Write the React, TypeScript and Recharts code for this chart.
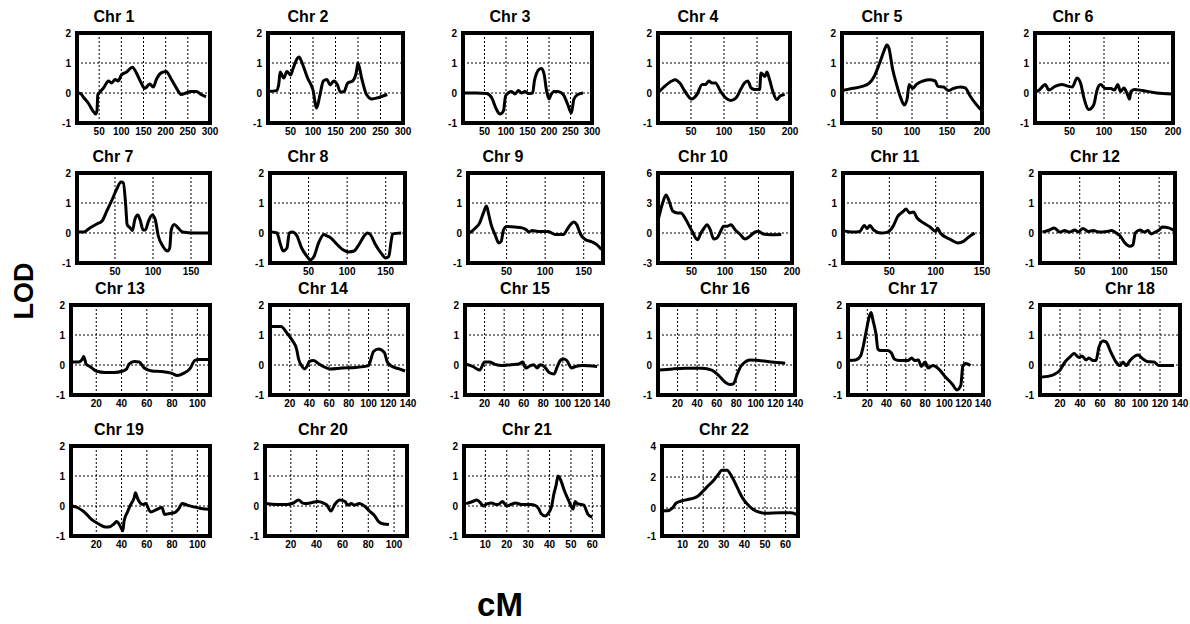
import { CartesianGrid, Line, LineChart, ReferenceArea, XAxis, YAxis } from "recharts";

type Pt = [number, number];

// LOD curves, [cM, LOD]
const chr1: Pt[] = [[0, 0], [8, -0.02], [15, -0.15], [26, -0.35], [36, -0.6], [42, -0.7], [45, -0.6], [47, -0.05], [51, 0.02], [60, 0.17], [71, 0.4], [78, 0.33], [86, 0.45], [93, 0.4], [100, 0.6], [112, 0.7], [125, 0.86], [134, 0.67], [145, 0.33], [153, 0.15], [164, 0.3], [172, 0.2], [179, 0.45], [190, 0.67], [201, 0.72], [213, 0.45], [224, 0.17], [235, -0.05], [246, 0], [257, 0.05], [269, 0.05], [280, -0.05], [291, -0.13]];
const chr2: Pt[] = [[0, 0.05], [19, 0.08], [24, 0.3], [27, 0.7], [35, 0.5], [42, 0.72], [50, 0.6], [56, 0.83], [65, 1.15], [69, 1.2], [77, 0.95], [88, 0.5], [100, 0.1], [108, -0.5], [115, -0.1], [123, 0.4], [131, 0.45], [138, 0.27], [146, 0.4], [154, 0.28], [161, 0.03], [169, 0.05], [177, 0.33], [188, 0.4], [196, 0.67], [200, 1.0], [208, 0.5], [219, -0.05], [231, -0.2], [246, -0.15], [265, -0.05]];
const chr3: Pt[] = [[0, 0], [30, 0], [55, -0.02], [67, -0.17], [78, -0.55], [86, -0.7], [94, -0.6], [99, -0.1], [105, 0], [113, 0.05], [121, -0.03], [129, 0.08], [136, 0], [144, 0.05], [152, -0.02], [162, 0], [166, 0.4], [171, 0.65], [178, 0.8], [183, 0.82], [189, 0.6], [194, 0.1], [200, -0.2], [205, -0.05], [212, 0.05], [221, 0.05], [233, -0.05], [244, -0.4], [252, -0.67], [258, -0.2], [267, -0.05], [279, 0]];
const chr4: Pt[] = [[0, 0], [10, 0.22], [21, 0.4], [26, 0.44], [33, 0.33], [41, 0.05], [51, -0.2], [59, -0.05], [67, 0.28], [72, 0.28], [77, 0.4], [82, 0.33], [87, 0.33], [95, 0.05], [103, -0.17], [110, -0.25], [118, -0.17], [126, 0.15], [131, 0.33], [136, 0.4], [141, 0.17], [146, 0.12], [154, 0.12], [156, 0.67], [162, 0.55], [165, 0.7], [169, 0.45], [174, 0.05], [180, -0.22], [185, -0.1], [192, -0.05]];
const chr5: Pt[] = [[0, 0.08], [14, 0.15], [29, 0.22], [39, 0.33], [46, 0.55], [53, 0.95], [60, 1.4], [64, 1.6], [67, 1.5], [72, 0.83], [78, 0.28], [84, -0.17], [89, -0.4], [93, -0.2], [96, 0.28], [101, 0.15], [106, 0.28], [116, 0.4], [125, 0.44], [133, 0.4], [137, 0.22], [145, 0.2], [152, 0.08], [159, 0.15], [169, 0.2], [176, 0.17], [183, -0.1], [190, -0.33], [198, -0.55]];
const chr6: Pt[] = [[2, 0.05], [5, 0.08], [15, 0.28], [20, 0.1], [29, 0.22], [39, 0.28], [49, 0.22], [54, 0.2], [61, 0.5], [66, 0.33], [71, -0.17], [78, -0.55], [85, -0.4], [90, 0.1], [95, 0.28], [102, 0.15], [110, 0.15], [115, 0.1], [120, 0.28], [124, 0.05], [129, 0.17], [134, -0.05], [137, -0.2], [139, 0.05], [144, 0.12], [156, 0.08], [176, 0], [198, -0.03]];
const chr7: Pt[] = [[0, 0.03], [9, 0.03], [17, 0.17], [26, 0.3], [33, 0.4], [39, 0.72], [46, 1.1], [52, 1.45], [58, 1.7], [61, 1.67], [64, 0.95], [66, 0.28], [70, 0.17], [73, 0.08], [76, 0.44], [80, 0.6], [83, 0.44], [87, 0.1], [90, 0.1], [94, 0.39], [99, 0.6], [103, 0.44], [107, -0.1], [113, -0.44], [119, -0.6], [122, -0.5], [124, 0.1], [128, 0.28], [133, 0.17], [139, 0.03], [154, 0], [174, 0]];
const chr8: Pt[] = [[2, 0.03], [9, 0], [13, -0.33], [17, -0.6], [22, -0.5], [25, 0], [29, 0.03], [35, -0.1], [41, -0.5], [48, -0.78], [52, -0.89], [57, -0.78], [63, -0.33], [70, -0.05], [74, -0.1], [78, -0.15], [85, -0.33], [94, -0.55], [102, -0.63], [109, -0.6], [115, -0.4], [122, -0.1], [126, 0], [130, -0.05], [137, -0.4], [144, -0.67], [150, -0.83], [154, -0.78], [157, -0.28], [159, -0.03], [170, 0]];
const chr9: Pt[] = [[2, 0], [9, 0.15], [15, 0.33], [20, 0.67], [24, 0.9], [27, 0.6], [30, 0.28], [35, -0.05], [40, -0.33], [43, -0.28], [46, 0.1], [50, 0.22], [61, 0.2], [70, 0.17], [76, 0.1], [79, 0.03], [83, 0.08], [91, 0.05], [104, 0.05], [113, -0.05], [124, -0.05], [128, 0.1], [133, 0.28], [137, 0.37], [141, 0.28], [146, -0.05], [152, -0.22], [161, -0.3], [167, -0.39], [173, -0.55]];
const chr10: Pt[] = [[1, 1.5], [6, 2.8], [12, 3.8], [16, 3.3], [22, 2.2], [29, 2.0], [34, 2.0], [42, 1.3], [47, 0.67], [51, 0.17], [59, -0.67], [64, 0], [69, 0.5], [73, 0.83], [78, 0.33], [83, -0.6], [88, -0.5], [93, 0.1], [98, 0.67], [103, 0.67], [109, 0.83], [115, 0.33], [122, -0.1], [130, -0.6], [137, -0.33], [145, 0.1], [150, 0.17], [157, -0.1], [169, -0.17], [184, -0.15]];
const chr11: Pt[] = [[0, 0.08], [11, 0.03], [18, 0.05], [23, 0.25], [26, 0.15], [29, 0.25], [33, 0.1], [41, 0], [48, 0.03], [54, 0.22], [59, 0.55], [65, 0.72], [68, 0.8], [72, 0.67], [76, 0.7], [80, 0.5], [87, 0.33], [94, 0.2], [100, 0.05], [102, 0.17], [105, 0], [115, -0.2], [124, -0.33], [130, -0.28], [135, -0.15], [142, 0]];
const chr12: Pt[] = [[3, 0.03], [12, 0.1], [18, 0.17], [25, 0.03], [31, 0.08], [37, 0.03], [44, 0.1], [48, 0.03], [54, 0.15], [61, 0.05], [67, 0.08], [75, 0.03], [84, 0.05], [90, 0.08], [96, 0], [101, -0.1], [107, -0.33], [113, -0.44], [117, -0.4], [120, 0], [126, 0.1], [131, 0.03], [136, 0.08], [140, -0.03], [145, 0.03], [150, 0.1], [154, 0.2], [162, 0.17], [169, 0.08]];
const chr13: Pt[] = [[0, 0.1], [6, 0.1], [9, 0.2], [10, 0.28], [12, 0.03], [15, -0.05], [20, -0.2], [27, -0.25], [34, -0.25], [41, -0.2], [44, -0.13], [46, 0.03], [50, 0.12], [54, 0.1], [58, -0.1], [64, -0.2], [72, -0.22], [80, -0.28], [84, -0.35], [89, -0.28], [94, -0.13], [98, 0.15], [101, 0.18], [110, 0.18]];
const chr14: Pt[] = [[2, 1.28], [11, 1.28], [18, 1.03], [23, 0.8], [27, 0.53], [29, 0.2], [32, -0.02], [35, -0.13], [38, -0.02], [40, 0.12], [44, 0.15], [49, 0.05], [54, -0.05], [61, -0.13], [73, -0.1], [87, -0.08], [100, -0.02], [102, 0.15], [105, 0.45], [110, 0.53], [116, 0.42], [119, 0.1], [124, -0.05], [131, -0.13], [137, -0.2]];
const chr15: Pt[] = [[1, 0.03], [8, -0.05], [15, -0.17], [20, 0.1], [25, 0.1], [30, 0.03], [38, -0.02], [47, 0.01], [55, 0.03], [59, 0.1], [62, -0.1], [67, -0.02], [70, 0.01], [74, -0.1], [77, 0.01], [81, -0.05], [86, -0.25], [91, -0.3], [94, -0.08], [98, 0.17], [101, 0.2], [104, 0.15], [109, -0.1], [113, -0.05], [120, -0.02], [135, -0.05]];
const chr16: Pt[] = [[1, -0.17], [15, -0.13], [28, -0.11], [45, -0.11], [55, -0.17], [62, -0.35], [69, -0.58], [74, -0.65], [77, -0.63], [81, -0.3], [84, -0.08], [89, 0.1], [94, 0.17], [103, 0.15], [116, 0.1], [130, 0.06]];
const chr17: Pt[] = [[1, 0.15], [8, 0.17], [13, 0.3], [16, 0.65], [19, 1.15], [22, 1.6], [24, 1.75], [26, 1.48], [29, 1.03], [31, 0.53], [34, 0.48], [41, 0.48], [45, 0.4], [48, 0.2], [53, 0.15], [62, 0.15], [66, 0.23], [69, 0.15], [73, 0.17], [76, -0.05], [80, 0.1], [83, -0.1], [88, -0.02], [94, -0.13], [101, -0.4], [108, -0.63], [113, -0.83], [117, -0.68], [119, -0.05], [122, 0.05], [127, -0.02]];
const chr18: Pt[] = [[2, -0.4], [8, -0.38], [15, -0.3], [20, -0.17], [25, 0.1], [31, 0.3], [34, 0.38], [39, 0.25], [42, 0.3], [46, 0.17], [49, 0.23], [53, 0.15], [56, 0.15], [59, 0.6], [63, 0.8], [66, 0.77], [71, 0.42], [76, 0.1], [80, -0.02], [83, 0.1], [86, -0.02], [90, 0.15], [95, 0.3], [98, 0.33], [103, 0.2], [107, 0.12], [114, 0.1], [119, -0.02], [124, -0.02], [134, -0.02]];
const chr19: Pt[] = [[1, 0], [5, -0.05], [11, -0.22], [16, -0.44], [22, -0.6], [27, -0.7], [30, -0.7], [34, -0.6], [36, -0.52], [39, -0.67], [41, -0.83], [42, -0.5], [45, -0.17], [47, 0.03], [50, 0.28], [51, 0.44], [53, 0.22], [57, 0.05], [59, 0.08], [63, -0.2], [68, -0.11], [72, -0.05], [74, -0.28], [78, -0.25], [82, -0.22], [85, -0.11], [88, 0.08], [92, 0.03], [97, -0.03], [103, -0.08], [110, -0.11]];
const chr20: Pt[] = [[1, 0.08], [9, 0.05], [17, 0.05], [22, 0.1], [26, 0.2], [29, 0.1], [31, 0.08], [35, 0.1], [41, 0.15], [45, 0.1], [48, 0.03], [51, -0.17], [54, 0.05], [58, 0.2], [62, 0.15], [64, 0.03], [67, 0.08], [69, 0.03], [73, 0.08], [77, 0], [81, -0.17], [85, -0.33], [88, -0.52], [92, -0.6], [96, -0.62]];
const chr21: Pt[] = [[1, 0.08], [4, 0.15], [6, 0.2], [8, 0.08], [9, 0], [11, 0.08], [13, 0.1], [15, 0.05], [16, 0.05], [18, 0.15], [20, 0], [22, 0.05], [24, 0.1], [27, 0.05], [31, 0.05], [33, 0.03], [35, -0.1], [36, -0.25], [38, -0.33], [39, -0.28], [41, 0], [42, 0.39], [43, 0.67], [44, 1.0], [45, 0.9], [47, 0.5], [49, 0.17], [51, -0.1], [52, 0.15], [53, 0.08], [55, 0.05], [56, 0.03], [58, -0.28], [60, -0.37]];
const chr22: Pt[] = [[0, -0.18], [2.5, -0.18], [5, 0], [7, 0.33], [9, 0.44], [12.5, 0.55], [16, 0.67], [17.5, 0.78], [20, 1.1], [22.5, 1.45], [25, 1.78], [27.5, 2.2], [29, 2.44], [31.5, 2.44], [34, 2.0], [36.5, 1.33], [39, 0.67], [42.5, 0.1], [46, -0.22], [50, -0.33], [57.5, -0.3], [62.5, -0.3], [66, -0.45]];

const curves = [chr1, chr2, chr3, chr4, chr5, chr6, chr7, chr8, chr9, chr10, chr11, chr12, chr13, chr14, chr15, chr16, chr17, chr18, chr19, chr20, chr21, chr22];
const titles = curves.map((_, i) => `Chr ${i + 1}`);

const xMax = [300, 300, 300, 200, 200, 200, 175, 175, 175, 200, 150, 170, 110, 140, 140, 140, 140, 140, 110, 110, 65, 66];
const ticks300 = [50, 100, 150, 200, 250, 300];
const ticks200 = [50, 100, 150, 200];
const ticks150 = [50, 100, 150];
const ticks100 = [20, 40, 60, 80, 100];
const ticks140 = [20, 40, 60, 80, 100, 120, 140];
const ticks60 = [10, 20, 30, 40, 50, 60];
const xTicks = [
  ticks300, ticks300, ticks300, ticks200, ticks200, ticks200,
  ticks150, ticks150, ticks150, ticks200, ticks150, ticks150,
  ticks100, ticks140, ticks140, ticks140, ticks140, ticks140,
  ticks100, ticks100, ticks60, ticks60,
];

const lodTicks = [-1, 0, 1, 2];
const lodLabels = ["-1", "0", "1", "2"];
const chr10Ticks = [-3, 0, 3, 6];
const chr10Labels = ["-3", "0", "3", "6"];
const chr22Ticks = [-1.8, 0, 2, 4];
const chr22Labels = ["-1", "0", "2", "4"];

// frame placement: [left, right, row, title centre]
const rowTops = [33, 173, 305, 446];
const FRAME_H = 90;
const frames: [number, number, number, number][] = [
  [77, 210, 0, 114], [268, 403, 0, 308], [463, 592, 0, 510], [658, 790, 0, 698], [842, 982, 0, 882], [1035, 1173, 0, 1073],
  [77, 210, 1, 113], [270, 405, 1, 308], [468, 603, 1, 503], [658, 792, 1, 703], [843, 982, 1, 895], [1040, 1175, 1, 1095],
  [71, 210, 2, 120], [270, 408, 2, 323], [465, 602, 2, 525], [658, 795, 2, 725], [848, 983, 2, 913], [1040, 1180, 2, 1130],
  [71, 210, 3, 119], [265, 407, 3, 323], [464, 603, 3, 527], [662, 798, 3, 724],
];

const FONT = "'Liberation Sans', Arial, sans-serif";
const tickStyle = { fontSize: 10, fontWeight: 700, fill: "#000", fontFamily: FONT };

function Panel({ idx }: { idx: number }) {
  const [left, right, row, titleX] = frames[idx];
  const top = rowTops[row];
  const w = right - left;
  const padL = 30;
  const padT = 6;
  const padR = 12;
  const padB = 20;

  let yTicks = lodTicks;
  let yLabels = lodLabels;
  if (idx === 9) {
    yTicks = chr10Ticks;
    yLabels = chr10Labels;
  } else if (idx === 21) {
    yTicks = chr22Ticks;
    yLabels = chr22Labels;
  }
  const yMin = yTicks[0];
  const yMax = yTicks[yTicks.length - 1];
  const data = curves[idx].map(([cm, lod]) => ({ cm, lod }));

  return (
    <>
      <div
        style={{
          position: "absolute",
          left: titleX - 50,
          top: top - 26,
          width: 100,
          textAlign: "center",
          fontSize: 16,
          fontWeight: 700,
          lineHeight: "20px",
          fontFamily: FONT,
        }}
      >
        {titles[idx]}
      </div>
      <div style={{ position: "absolute", left: left - padL, top: top - padT }}>
        <LineChart
          width={padL + w + padR}
          height={padT + FRAME_H + padB}
          data={data}
          margin={{ top: padT, right: padR, left: 0, bottom: 0 }}
        >
          <CartesianGrid stroke="#000" strokeDasharray="2 2" />
          <XAxis
            dataKey="cm"
            type="number"
            domain={[0, xMax[idx]]}
            ticks={xTicks[idx]}
            interval={0}
            tickLine={false}
            axisLine={false}
            tickSize={0}
            tickMargin={5}
            height={padB}
            tick={tickStyle}
          />
          <YAxis
            type="number"
            domain={[yMin, yMax]}
            ticks={yTicks}
            interval={0}
            tickLine={false}
            axisLine={false}
            tickSize={0}
            tickMargin={6}
            width={padL}
            tick={tickStyle}
            tickFormatter={(_v: number, i: number) => yLabels[i]}
          />
          <Line
            dataKey="lod"
            type="monotone"
            stroke="#000"
            strokeWidth={3}
            dot={false}
            isAnimationActive={false}
          />
          <ReferenceArea
            x1={0}
            x2={xMax[idx]}
            y1={yMin}
            y2={yMax}
            fill="none"
            stroke="#000"
            strokeWidth={4}
            fillOpacity={0}
          />
        </LineChart>
      </div>
    </>
  );
}

export default function App() {
  return (
    <div
      style={{
        position: "absolute",
        left: 0,
        top: 0,
        width: 1190,
        height: 624,
        background: "#fff",
        fontFamily: FONT,
        overflow: "hidden",
      }}
    >
      {curves.map((_, i) => (
        <Panel key={i} idx={i} />
      ))}
      <div
        style={{
          position: "absolute",
          left: 24,
          top: 291,
          transform: "translate(-50%, -50%) rotate(-90deg)",
          fontSize: 27,
          fontWeight: 700,
          whiteSpace: "nowrap",
        }}
      >
        LOD
      </div>
      <div
        style={{
          position: "absolute",
          left: 500,
          top: 605,
          transform: "translate(-50%, -50%)",
          fontSize: 33,
          fontWeight: 700,
        }}
      >
        cM
      </div>
    </div>
  );
}
